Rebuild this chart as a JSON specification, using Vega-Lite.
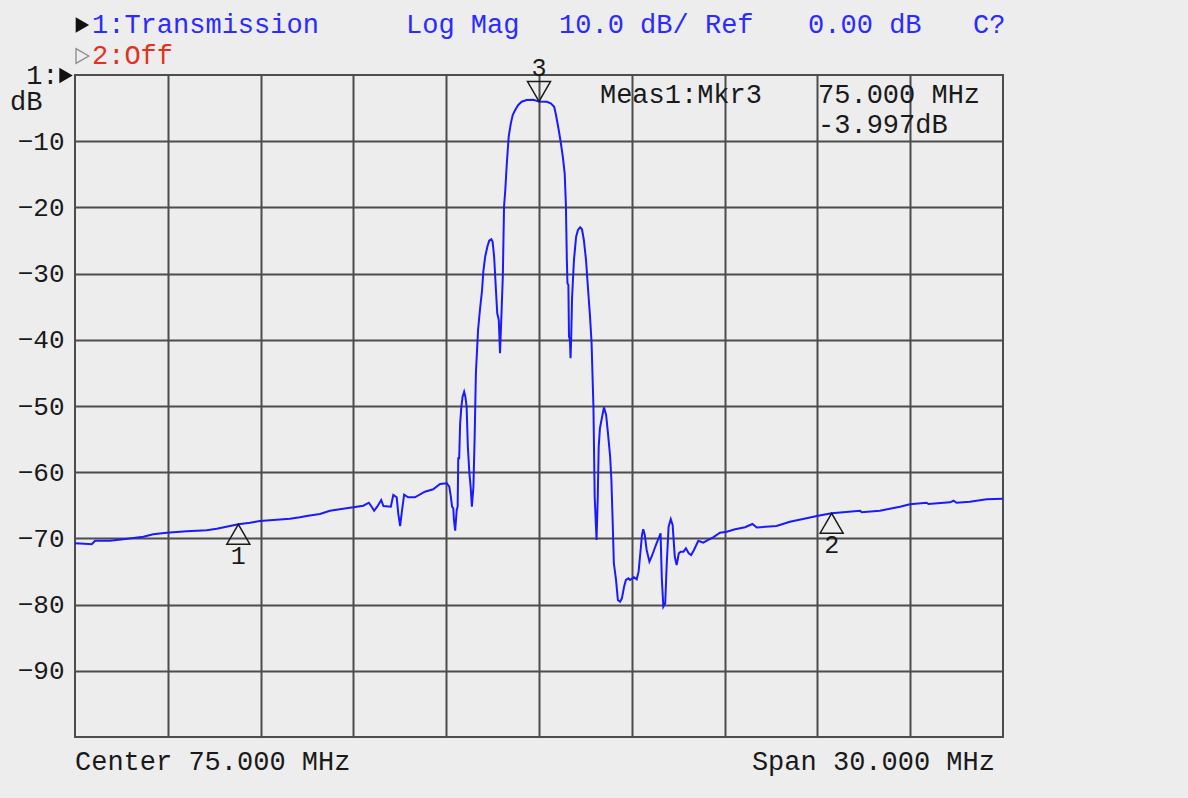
{
  "$schema": "https://vega.github.io/schema/vega-lite/v6.json",
  "width": 928,
  "height": 662,
  "autosize": {"type": "none"},
  "padding": {"left": 75, "top": 75, "right": 185, "bottom": 61},
  "background": "#ededed",
  "config": {
    "view": {"stroke": "#4d4d4d", "strokeWidth": 2},
    "text": {"font": "Liberation Mono", "fontSize": 27}
  },
  "datasets": {
    "trace": [
      {"f":60.00,"db":-70.75},{"f":60.30,"db":-70.80},{"f":60.54,"db":-70.89},{"f":60.65,"db":-70.35},{"f":61.13,"db":-70.35},{"f":61.56,"db":-70.14},{"f":61.83,"db":-69.98},{"f":62.21,"db":-69.74},{"f":62.53,"db":-69.38},{"f":62.96,"db":-69.14},{"f":63.61,"db":-68.93},{"f":64.26,"db":-68.78},{"f":64.58,"db":-68.54},{"f":65.01,"db":-68.13},{"f":65.28,"db":-67.87},{"f":65.66,"db":-67.63},{"f":65.98,"db":-67.37},{"f":66.41,"db":-67.22},{"f":66.95,"db":-67.02},{"f":67.27,"db":-66.81},{"f":67.49,"db":-66.62},{"f":67.70,"db":-66.47},{"f":67.92,"db":-66.31},{"f":68.24,"db":-65.82},{"f":68.67,"db":-65.51},{"f":69.00,"db":-65.30},{"f":69.32,"db":-65.06},{"f":69.50,"db":-64.61},{"f":69.59,"db":-65.21},{"f":69.67,"db":-65.82},{"f":69.77,"db":-65.21},{"f":69.90,"db":-64.20},{"f":69.97,"db":-65.11},{"f":70.21,"db":-65.21},{"f":70.29,"db":-63.44},{"f":70.40,"db":-63.79},{"f":70.45,"db":-66.21},{"f":70.51,"db":-68.13},{"f":70.56,"db":-66.21},{"f":70.64,"db":-63.40},{"f":70.77,"db":-63.79},{"f":70.99,"db":-63.79},{"f":71.31,"db":-62.95},{"f":71.58,"db":-62.58},{"f":71.80,"db":-61.78},{"f":72.02,"db":-61.68},{"f":72.06,"db":-61.93},{"f":72.10,"db":-62.19},{"f":72.15,"db":-63.70},{"f":72.19,"db":-65.21},{"f":72.23,"db":-65.45},{"f":72.25,"db":-67.22},{"f":72.29,"db":-68.84},{"f":72.34,"db":-65.71},{"f":72.37,"db":-65.21},{"f":72.39,"db":-57.90},{"f":72.42,"db":-57.90},{"f":72.45,"db":-52.72},{"f":72.49,"db":-50.11},{"f":72.53,"db":-48.60},{"f":72.58,"db":-47.84},{"f":72.62,"db":-48.60},{"f":72.66,"db":-50.11},{"f":72.70,"db":-56.15},{"f":72.75,"db":-60.17},{"f":72.79,"db":-62.19},{"f":72.83,"db":-65.21},{"f":72.88,"db":-62.19},{"f":72.92,"db":-54.64},{"f":72.96,"db":-45.06},{"f":73.03,"db":-38.52},{"f":73.09,"db":-35.50},{"f":73.16,"db":-32.48},{"f":73.20,"db":-29.71},{"f":73.26,"db":-27.45},{"f":73.33,"db":-25.94},{"f":73.39,"db":-25.03},{"f":73.46,"db":-24.82},{"f":73.50,"db":-25.18},{"f":73.55,"db":-27.45},{"f":73.59,"db":-30.97},{"f":73.65,"db":-36.00},{"f":73.70,"db":-37.01},{"f":73.74,"db":-42.04},{"f":73.78,"db":-37.01},{"f":73.83,"db":-30.50},{"f":73.87,"db":-19.89},{"f":73.91,"db":-17.37},{"f":73.96,"db":-13.34},{"f":74.02,"db":-9.32},{"f":74.09,"db":-7.30},{"f":74.15,"db":-6.04},{"f":74.23,"db":-5.29},{"f":74.33,"db":-4.53},{"f":74.44,"db":-4.03},{"f":74.60,"db":-3.78},{"f":74.81,"db":-3.75},{"f":75.00,"db":-4.00},{"f":75.25,"db":-4.05},{"f":75.38,"db":-4.27},{"f":75.49,"db":-4.79},{"f":75.55,"db":-6.04},{"f":75.62,"db":-7.81},{"f":75.70,"db":-10.08},{"f":75.77,"db":-12.34},{"f":75.83,"db":-14.85},{"f":75.87,"db":-19.64},{"f":75.90,"db":-27.95},{"f":75.92,"db":-31.47},{"f":75.95,"db":-31.72},{"f":75.97,"db":-39.53},{"f":76.00,"db":-40.03},{"f":76.02,"db":-42.80},{"f":76.04,"db":-39.77},{"f":76.07,"db":-33.49},{"f":76.13,"db":-27.95},{"f":76.20,"db":-24.43},{"f":76.26,"db":-23.41},{"f":76.33,"db":-23.01},{"f":76.39,"db":-23.31},{"f":76.45,"db":-24.92},{"f":76.52,"db":-27.95},{"f":76.58,"db":-31.98},{"f":76.65,"db":-36.51},{"f":76.70,"db":-40.53},{"f":76.76,"db":-50.11},{"f":76.80,"db":-63.70},{"f":76.86,"db":-70.24},{"f":76.90,"db":-63.70},{"f":76.93,"db":-56.15},{"f":76.97,"db":-53.37},{"f":77.04,"db":-51.62},{"f":77.10,"db":-50.20},{"f":77.17,"db":-51.36},{"f":77.23,"db":-54.12},{"f":77.30,"db":-57.66},{"f":77.34,"db":-61.18},{"f":77.38,"db":-67.22},{"f":77.42,"db":-73.76},{"f":77.49,"db":-76.28},{"f":77.55,"db":-79.31},{"f":77.62,"db":-79.56},{"f":77.68,"db":-79.05},{"f":77.75,"db":-77.30},{"f":77.81,"db":-76.28},{"f":77.89,"db":-76.03},{"f":77.94,"db":-76.28},{"f":78.07,"db":-75.88},{"f":78.16,"db":-76.18},{"f":78.22,"db":-75.03},{"f":78.27,"db":-72.51},{"f":78.33,"db":-69.49},{"f":78.37,"db":-68.63},{"f":78.42,"db":-69.49},{"f":78.48,"db":-71.75},{"f":78.57,"db":-73.52},{"f":78.64,"db":-72.77},{"f":78.72,"db":-71.75},{"f":78.80,"db":-70.74},{"f":78.89,"db":-69.74},{"f":78.93,"db":-69.23},{"f":78.97,"db":-76.03},{"f":79.02,"db":-80.32},{"f":79.08,"db":-79.80},{"f":79.13,"db":-73.76},{"f":79.19,"db":-68.23},{"f":79.26,"db":-67.11},{"f":79.32,"db":-67.98},{"f":79.39,"db":-72.77},{"f":79.45,"db":-74.02},{"f":79.52,"db":-72.25},{"f":79.58,"db":-72.01},{"f":79.67,"db":-72.01},{"f":79.75,"db":-71.50},{"f":79.84,"db":-72.25},{"f":79.92,"db":-72.51},{"f":80.01,"db":-71.75},{"f":80.15,"db":-70.35},{"f":80.31,"db":-70.65},{"f":80.47,"db":-70.24},{"f":80.63,"db":-69.83},{"f":80.85,"db":-69.14},{"f":81.07,"db":-68.99},{"f":81.34,"db":-68.63},{"f":81.66,"db":-68.32},{"f":81.90,"db":-67.82},{"f":82.04,"db":-68.35},{"f":82.68,"db":-68.13},{"f":83.11,"db":-67.48},{"f":83.65,"db":-66.96},{"f":83.98,"db":-66.62},{"f":84.46,"db":-66.21},{"f":85.38,"db":-65.82},{"f":85.43,"db":-66.06},{"f":86.02,"db":-65.82},{"f":86.67,"db":-65.21},{"f":86.99,"db":-64.85},{"f":87.53,"db":-64.61},{"f":87.59,"db":-64.80},{"f":88.29,"db":-64.55},{"f":88.40,"db":-64.31},{"f":88.50,"db":-64.61},{"f":88.93,"db":-64.46},{"f":89.47,"db":-64.09},{"f":90.00,"db":-64.00}
    ],
    "markers": [
      {"f": 65.28, "db": -67.87, "id": "1"},
      {"f": 84.46, "db": -66.21, "id": "2"},
      {"f": 75.0, "db": -3.997, "id": "3"}
    ],
    "blueText": [
      {"f": 60.55, "db": 7.55, "t": "1:Transmission"},
      {"f": 70.70, "db": 7.55, "t": "Log Mag"},
      {"f": 75.65, "db": 7.55, "t": "10.0 dB/ Ref"},
      {"f": 83.70, "db": 7.55, "t": "0.00 dB"},
      {"f": 89.03, "db": 7.55, "t": "C?"}
    ],
    "redText": [
      {"f": 60.55, "db": 2.87, "t": "2:Off"}
    ],
    "blackText": [
      {"f": 58.42, "db": -0.08, "t": "1:"},
      {"f": 57.90, "db": -4.08, "t": "dB"},
      {"f": 76.97, "db": -3.02, "t": "Meas1:Mkr3"},
      {"f": 84.02, "db": -3.02, "t": "75.000 MHz"},
      {"f": 84.02, "db": -7.55, "t": "-3.997dB"},
      {"f": 60.0, "db": -103.78, "t": "Center 75.000 MHz"}
    ],
    "rightText": [
      {"f": 89.74, "db": -103.78, "t": "Span 30.000 MHz"}
    ],
    "solidArrows": [
      {"f": 60.24, "db": 7.55},
      {"f": 59.71, "db": -0.08}
    ],
    "hollowArrows": [
      {"f": 60.24, "db": 2.87}
    ]
  },
  "encoding": {
    "x": {
      "field": "f", "type": "quantitative",
      "scale": {"domain": [60, 90], "nice": false, "zero": false},
      "axis": {"values": [63, 66, 69, 72, 75, 78, 81, 84, 87], "labels": false, "ticks": false, "domain": false, "title": null, "grid": true, "gridColor": "#4d4d4d", "gridWidth": 2, "gridOpacity": 1}
    },
    "y": {
      "field": "db", "type": "quantitative",
      "scale": {"domain": [-100, 0], "nice": false, "zero": false},
      "axis": {"values": [-90, -80, -70, -60, -50, -40, -30, -20, -10], "ticks": false, "domain": false, "title": null, "grid": true, "gridColor": "#4d4d4d", "gridWidth": 2, "gridOpacity": 1, "labelFont": "Liberation Mono", "labelFontSize": 26, "labelColor": "#1a1a1a", "labelPadding": 11}
    }
  },
  "layer": [
    {
      "data": {"name": "trace"},
      "mark": {"type": "line", "color": "#1a1aff", "strokeWidth": 2, "interpolate": "linear"}
    },
    {
      "data": {"name": "markers"},
      "transform": [{"filter": "datum.id === '3'"}],
      "mark": {"type": "point", "shape": "M0,0L-1,-1.732L1,-1.732Z", "size": 529, "filled": false, "stroke": "#1a1a1a", "strokeWidth": 1.5, "opacity": 1, "clip": false}
    },
    {
      "data": {"name": "markers"},
      "transform": [{"filter": "datum.id !== '3'"}],
      "mark": {"type": "point", "shape": "M0,0L-1,1.732L1,1.732Z", "size": 529, "filled": false, "stroke": "#1a1a1a", "strokeWidth": 1.5, "opacity": 1}
    },
    {
      "data": {"name": "markers"},
      "transform": [{"filter": "datum.id === '3'"}],
      "mark": {"type": "text", "dy": -33, "align": "center", "baseline": "middle", "color": "#1a1a1a", "fontSize": 25},
      "encoding": {"text": {"field": "id"}}
    },
    {
      "data": {"name": "markers"},
      "transform": [{"filter": "datum.id !== '3'"}],
      "mark": {"type": "text", "dy": 32, "align": "center", "baseline": "middle", "color": "#1a1a1a", "fontSize": 25},
      "encoding": {"text": {"field": "id"}}
    },
    {
      "data": {"name": "blueText"},
      "mark": {"type": "text", "align": "left", "baseline": "middle", "color": "#2b2bff"},
      "encoding": {"text": {"field": "t"}}
    },
    {
      "data": {"name": "redText"},
      "mark": {"type": "text", "align": "left", "baseline": "middle", "color": "#e2321e"},
      "encoding": {"text": {"field": "t"}}
    },
    {
      "data": {"name": "blackText"},
      "mark": {"type": "text", "align": "left", "baseline": "middle", "color": "#1a1a1a"},
      "encoding": {"text": {"field": "t"}}
    },
    {
      "data": {"name": "rightText"},
      "mark": {"type": "text", "align": "right", "baseline": "middle", "color": "#1a1a1a"},
      "encoding": {"text": {"field": "t"}}
    },
    {
      "data": {"name": "solidArrows"},
      "mark": {"type": "point", "shape": "triangle-right", "size": 240, "filled": true, "color": "#111111", "opacity": 1}
    },
    {
      "data": {"name": "hollowArrows"},
      "mark": {"type": "point", "shape": "triangle-right", "size": 220, "filled": false, "color": "#8a8a8a", "strokeWidth": 1.3, "opacity": 1}
    }
  ]
}
